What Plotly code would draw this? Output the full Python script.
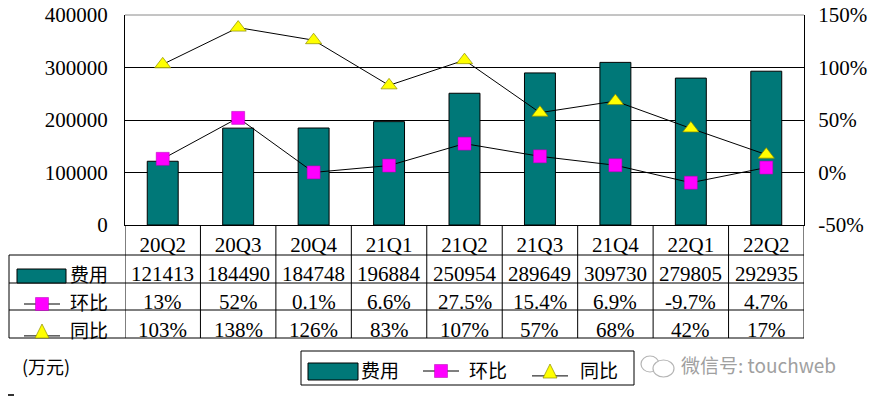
import plotly.graph_objects as go

categories = ["20Q2", "20Q3", "20Q4", "21Q1", "21Q2", "21Q3", "21Q4", "22Q1", "22Q2"]
cost = [121413, 184490, 184748, 196884, 250954, 289649, 309730, 279805, 292935]
qoq = [13, 52, 0.1, 6.6, 27.5, 15.4, 6.9, -9.7, 4.7]
yoy = [103, 138, 126, 83, 107, 57, 68, 42, 17]
left_ticks = [0, 100000, 200000, 300000, 400000]
right_ticks = [-50, 0, 50, 100, 150]
series_names = ["费用", "环比", "同比"]

# the page body has an 8px default margin; lay out in window pixels and shift
OFF = 8
W, H = 879 - OFF, 398 - OFF
L, R, T, B = 125, 804, 15, 225  # plot box in window pixels

def px(x):
    return (x - L) / (R - L)

def py(y):
    return (B - y) / (B - T)

NUM_FONT = "Liberation Serif, Noto Sans CJK SC, serif"
CJK_FONT = "Noto Sans CJK SC, sans-serif"
TEAL = "#007878"
MAG = "#FF00FF"
YEL = "#FFFF00"

fig = go.Figure()
fig.add_trace(go.Bar(x=categories, y=cost, name=series_names[0], width=0.41,
                     marker=dict(color=TEAL, line=dict(color="black", width=1)),
                     showlegend=False))
fig.add_trace(go.Scatter(x=categories, y=qoq, name=series_names[1], yaxis="y2",
                         mode="lines+markers", line=dict(color="black", width=1),
                         marker=dict(symbol="square", size=13, color=MAG,
                                     line=dict(color="#B000B0", width=0.5)),
                         showlegend=False))
fig.add_trace(go.Scatter(x=categories, y=yoy, name=series_names[2], yaxis="y2",
                         mode="lines+markers", line=dict(color="black", width=1),
                         marker=dict(symbol="triangle-up", size=14, color=YEL,
                                     line=dict(color="#8C8C00", width=0.7)),
                         showlegend=False))

shapes = []
annotations = []

def hline(y, x0, x1, color="black", width=1):
    shapes.append(dict(type="line", xref="paper", yref="paper", x0=px(x0), x1=px(x1),
                       y0=py(y), y1=py(y), line=dict(color=color, width=width)))

def vline(x, y0, y1, xref="paper", color="black"):
    xx = px(x) if xref == "paper" else x
    shapes.append(dict(type="line", xref=xref, yref="paper", x0=xx, x1=xx,
                       y0=py(y0), y1=py(y1), line=dict(color=color, width=1)))

# top border (gray)
hline(T, L, R, color="#8a8a8a")
# table grid
TABLE_L = 9
row_lines = [255, 283, 310, 338]
for y in row_lines:
    hline(y, TABLE_L, R)
vline(TABLE_L, 255, 338)
n = len(categories)
for k in range(n + 1):
    vline(k - 0.5, B, 338, xref="x")

# table text
row_centers = [274, 302, 330]
rows = [[str(v) for v in cost],
        [f"{v:g}%" for v in qoq],
        [f"{v:g}%" for v in yoy]]
for r, vals in enumerate(rows):
    for c, txt in zip(categories, vals):
        annotations.append(dict(x=c, xref="x", y=py(row_centers[r]), yref="paper",
                                text=txt, showarrow=False, xanchor="center", yanchor="middle",
                                font=dict(family=NUM_FONT, size=21, color="black")))

# row header labels and keys
for r, name in enumerate(series_names):
    annotations.append(dict(x=px(68), xref="paper", y=py(row_centers[r] - 1), yref="paper",
                            text=name, showarrow=False, xanchor="left", yanchor="middle",
                            font=dict(family=CJK_FONT, size=19, color="black")))

def key_rect(x0, x1, y0, y1):
    shapes.append(dict(type="rect", xref="paper", yref="paper", x0=px(x0), x1=px(x1),
                       y0=py(y1), y1=py(y0), fillcolor=TEAL, line=dict(color="black", width=1)))

def key_square(cx, cy, s=13):
    hline(cy, cx - 18, cx + 18)
    shapes.append(dict(type="rect", xref="paper", yref="paper", x0=px(cx - s / 2), x1=px(cx + s / 2),
                       y0=py(cy + s / 2), y1=py(cy - s / 2), fillcolor=MAG,
                       line=dict(color="#B000B0", width=0.5)))

def key_tri(cx, cy, s=14):
    hline(cy + s * 0.35, cx - 18, cx + 18)
    path = "M {} {} L {} {} L {} {} Z".format(px(cx - s / 2), py(cy + s / 2), px(cx + s / 2),
                                              py(cy + s / 2), px(cx), py(cy - s / 2))
    shapes.append(dict(type="path", xref="paper", yref="paper", path=path, fillcolor=YEL,
                       line=dict(color="#8C8C00", width=0.7)))

key_rect(17, 66, 269, 283)
key_square(42, 304)
key_tri(42, 331)

# legend box
shapes.append(dict(type="rect", xref="paper", yref="paper", x0=px(301), x1=px(634),
                   y0=py(385), y1=py(351), line=dict(color="black", width=1),
                   fillcolor="rgba(0,0,0,0)"))
key_rect(308, 358, 363, 380)
annotations.append(dict(x=px(359), xref="paper", y=py(369), yref="paper", text=series_names[0],
                        showarrow=False, xanchor="left", yanchor="middle",
                        font=dict(family=CJK_FONT, size=19, color="black")))
key_square(441, 371)
annotations.append(dict(x=px(467), xref="paper", y=py(369), yref="paper", text=series_names[1],
                        showarrow=False, xanchor="left", yanchor="middle",
                        font=dict(family=CJK_FONT, size=19, color="black")))
key_tri(550, 371)
annotations.append(dict(x=px(578), xref="paper", y=py(369), yref="paper", text=series_names[2],
                        showarrow=False, xanchor="left", yanchor="middle",
                        font=dict(family=CJK_FONT, size=19, color="black")))

# unit label
annotations.append(dict(x=px(20), xref="paper", y=py(366), yref="paper", text="(万元)",
                        showarrow=False, xanchor="left", yanchor="middle",
                        font=dict(family=CJK_FONT, size=18, color="black")))

# watermark
shapes.append(dict(type="circle", xref="paper", yref="paper", x0=px(641), x1=px(659),
                   y0=py(372), y1=py(356), line=dict(color="#b5b5b5", width=1.2)))
shapes.append(dict(type="circle", xref="paper", yref="paper", x0=px(653), x1=px(674),
                   y0=py(377), y1=py(360), line=dict(color="#b5b5b5", width=1.2),
                   fillcolor="white"))
annotations.append(dict(x=px(679), xref="paper", y=py(364), yref="paper", text="微信号: touchweb",
                        showarrow=False, xanchor="left", yanchor="middle",
                        font=dict(family=CJK_FONT, size=19, color="#a0a0a0")))

# bottom-left small mark
shapes.append(dict(type="line", xref="paper", yref="paper", x0=px(8), x1=px(14),
                   y0=py(395), y1=py(395), line=dict(color="#333", width=2)))

fig.update_layout(
    template="none",
    width=W, height=H,
    margin=dict(l=L - OFF, r=W - (R - OFF), t=T - OFF, b=H - (B - OFF), pad=0),
    paper_bgcolor="white", plot_bgcolor="white",
    bargap=0.59,
    xaxis=dict(type="category", showline=True, linecolor="black", linewidth=1,
               showgrid=False, ticks="", automargin=False,
               tickfont=dict(family=NUM_FONT, size=21, color="black"),
               ticklabelstandoff=1, range=[-0.5, n - 0.5], fixedrange=True),
    yaxis=dict(range=[left_ticks[0], left_ticks[-1]], tickvals=left_ticks,
               ticktext=[str(v) for v in left_ticks], automargin=False,
               ticklabeloverflow="allow",
               showline=True, linecolor="black", linewidth=1, showgrid=True,
               gridcolor="black", gridwidth=1, zeroline=False, ticks="",
               tickfont=dict(family=NUM_FONT, size=21, color="black"),
               ticklabelstandoff=12),
    yaxis2=dict(range=[right_ticks[0], right_ticks[-1]], tickvals=right_ticks,
                ticktext=[f"{v}%" for v in right_ticks], overlaying="y", side="right",
                showline=True, linecolor="black", linewidth=1, showgrid=False,
                zeroline=False, ticks="", automargin=False, ticklabeloverflow="allow",
                tickfont=dict(family=NUM_FONT, size=21, color="black"),
                ticklabelstandoff=9),
    shapes=shapes, annotations=annotations, showlegend=False,
)

fig.write_html("out.html")
